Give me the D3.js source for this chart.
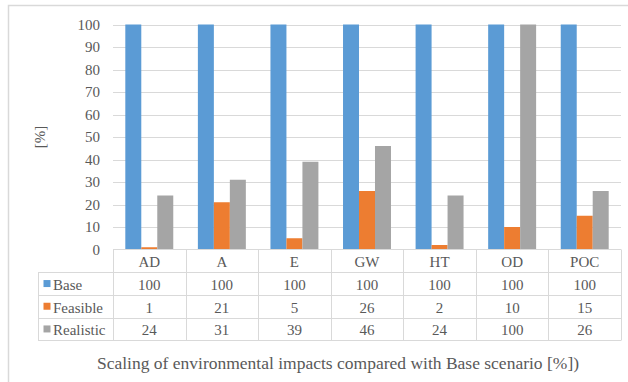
<!DOCTYPE html>
<html>
<head>
<meta charset="utf-8">
<script src="https://cdn.jsdelivr.net/npm/d3@7"></script>
<style>
  html, body { margin: 0; padding: 0; background: #fff; }
  svg { display: block; }
</style>
</head>
<body>
<svg id="chart" width="628" height="382"></svg>
<script>
// Impact categories and scenario results (% of Base scenario)
const categories = ["AD", "A", "E", "GW", "HT", "OD", "POC"];
const seriesNames = ["Base", "Feasible", "Realistic"];
const baseValues = [100, 100, 100, 100, 100, 100, 100];
const feasibleValues = [1, 21, 5, 26, 2, 10, 15];
const realisticValues = [24, 31, 39, 46, 24, 100, 26];
const yTicks = [0, 10, 20, 30, 40, 50, 60, 70, 80, 90, 100];
const colors = ["#5B9BD5", "#ED7D31", "#A5A5A5"];

const series = [baseValues, feasibleValues, realisticValues];
const serif = "'Liberation Serif'";
const textColor = "#595959";

const svg = d3.select("#chart");

// Outer chart frame
svg.append("rect")
  .attr("x", 8.5).attr("y", 5.5)
  .attr("width", 700).attr("height", 500)
  .attr("fill", "none").attr("stroke", "#D9D9D9").attr("stroke-width", 1.5);

const plotLeft = 113, plotRight = 621, plotTop = 24.5, plotBottom = 249.5;

const x = d3.scaleBand().domain(categories).range([plotLeft, plotRight]).paddingInner(0).paddingOuter(0);
const bw = x.bandwidth();
const x1 = d3.scaleBand().domain(seriesNames).range([0, bw]).paddingOuter(0.77).paddingInner(0);
const y = d3.scaleLinear().domain([0, 100]).range([plotBottom, plotTop]);

// Gridlines
svg.append("g").selectAll("line").data(yTicks.filter(d => d > 0)).join("line")
  .attr("x1", plotLeft).attr("x2", plotRight)
  .attr("y1", d => Math.round(y(d)) + 0.5).attr("y2", d => Math.round(y(d)) + 0.5)
  .attr("stroke", "#D9D9D9").attr("stroke-width", 1);

// Y axis tick labels
const yAxis = d3.axisLeft(y).tickValues(yTicks).tickSize(0).tickPadding(0);
const gy = svg.append("g").attr("transform", `translate(${plotLeft - 13},0)`).call(yAxis)
  .attr("font-family", serif).attr("font-size", 15);
gy.select(".domain").remove();
gy.selectAll("text").attr("fill", textColor);

// Bars
const groups = svg.append("g").selectAll("g").data(categories).join("g")
  .attr("transform", d => `translate(${x(d)},0)`);
groups.selectAll("rect")
  .data((c, i) => seriesNames.map((s, j) => ({ s, j, v: series[j][i] })))
  .join("rect")
  .attr("x", d => x1(d.s))
  .attr("width", x1.bandwidth())
  .attr("y", d => y(d.v))
  .attr("height", d => y(0) - y(d.v))
  .attr("fill", d => colors[d.j]);

// Data table below the plot
const rowH = 22.7;
const tableTop = plotBottom;
const legendLeft = 38;
const grid = svg.append("g").attr("stroke", "#D9D9D9").attr("stroke-width", 1).attr("fill", "none");

// horizontal lines
grid.append("line").attr("x1", plotLeft).attr("x2", plotRight).attr("y1", tableTop).attr("y2", tableTop);
for (let r = 1; r <= 4; r++) {
  const yy = Math.round(tableTop + r * rowH) + 0.5;
  grid.append("line").attr("x1", legendLeft).attr("x2", plotRight).attr("y1", yy).attr("y2", yy);
}
// vertical lines
const tableBottom = Math.round(tableTop + 4 * rowH) + 0.5;
categories.concat(["_end"]).forEach((c, i) => {
  const xx = Math.round(plotLeft + i * bw) + 0.5;
  grid.append("line").attr("x1", xx).attr("x2", xx).attr("y1", tableTop).attr("y2", tableBottom);
});
grid.append("line").attr("x1", legendLeft + 0.5).attr("x2", legendLeft + 0.5)
  .attr("y1", Math.round(tableTop + rowH) + 0.5).attr("y2", tableBottom);

const txt = svg.append("g").attr("font-family", serif).attr("font-size", 15).attr("fill", textColor);

// header row: category names
txt.append("g").selectAll("text").data(categories).join("text")
  .attr("x", d => x(d) + bw / 2)
  .attr("y", tableTop + rowH / 2 + 1)
  .attr("dy", "0.35em")
  .attr("text-anchor", "middle")
  .text(d => d);

// value rows with legend keys
seriesNames.forEach((name, j) => {
  const cy = tableTop + (j + 1.5) * rowH;
  svg.append("rect")
    .attr("x", 43.5).attr("y", cy - 3.5)
    .attr("width", 7).attr("height", 7)
    .attr("fill", colors[j]);
  txt.append("text")
    .attr("x", 53).attr("y", cy + 1).attr("dy", "0.35em")
    .text(name);
  txt.append("g").selectAll("text").data(categories).join("text")
    .attr("x", d => x(d) + bw / 2)
    .attr("y", cy + 1)
    .attr("dy", "0.35em")
    .attr("text-anchor", "middle")
    .text((d, i) => series[j][i]);
});

// Y axis title
txt.append("text")
  .attr("transform", `translate(40,${(plotTop + plotBottom) / 2}) rotate(-90)`)
  .attr("text-anchor", "middle")
  .attr("dy", "0.35em")
  .text("[%]");

// Chart title (bottom)
txt.append("text")
  .attr("x", 338).attr("y", 363)
  .attr("text-anchor", "middle")
  .attr("dy", "0.35em")
  .attr("font-size", 17.5)
  .text("Scaling of environmental impacts compared with Base scenario [%])");
</script>
</body>
</html>
